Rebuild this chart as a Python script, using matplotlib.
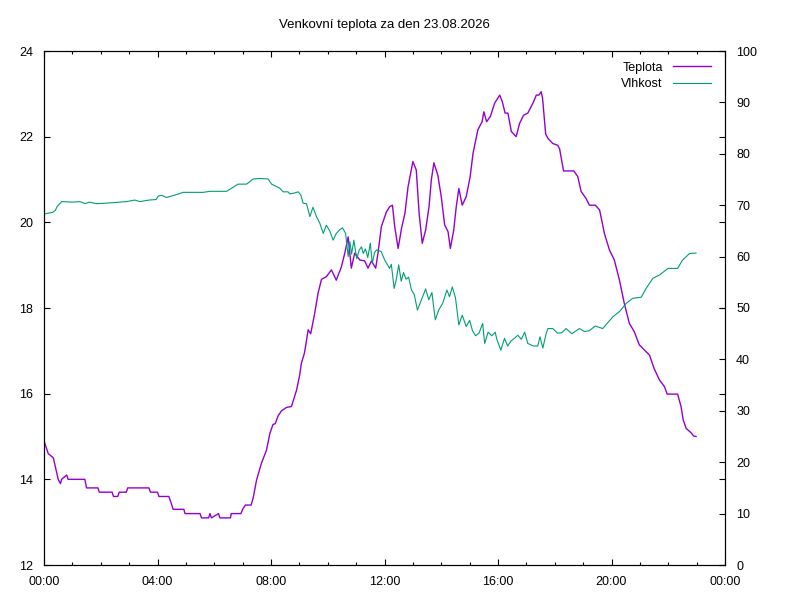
import matplotlib
matplotlib.use("Agg")
import matplotlib.pyplot as plt
from matplotlib.ticker import MultipleLocator, FuncFormatter

plt.rcParams['font.family'] = ['Liberation Sans', 'DejaVu Sans']

title = "Venkovní teplota za den 23.08.2026"

# time in hours, temperature in °C
temp_t = [0.00, 0.15, 0.33, 0.50, 0.58, 0.62, 0.80, 0.85, 1.44, 1.50, 1.90, 1.95, 2.05, 2.40, 2.45,
          2.60, 2.65, 2.90, 2.95, 3.70, 3.75, 4.00, 4.05, 4.40, 4.48, 4.55, 4.93, 4.97, 5.50, 5.55,
          5.80, 5.85, 5.90, 6.15, 6.20, 6.57, 6.60, 6.94, 7.00, 7.10, 7.30, 7.37, 7.49, 7.66, 7.84,
          7.96, 8.07, 8.15, 8.25, 8.37, 8.55, 8.72, 8.90, 9.01, 9.07, 9.18, 9.31, 9.40, 9.54, 9.66,
          9.78, 9.95, 10.13, 10.30, 10.48, 10.60, 10.72, 10.83, 10.95, 11.13, 11.30, 11.42, 11.54,
          11.69, 11.77, 11.89, 12.07, 12.19, 12.28, 12.36, 12.48, 12.60, 12.72, 12.83, 13.00, 13.12,
          13.22, 13.33, 13.45, 13.57, 13.65, 13.74, 13.88, 14.00, 14.12, 14.24, 14.32, 14.44, 14.53,
          14.62, 14.74, 14.88, 15.02, 15.12, 15.29, 15.44, 15.50, 15.60, 15.73, 15.88, 16.06, 16.15,
          16.25, 16.35, 16.47, 16.64, 16.76, 16.90, 17.05, 17.23, 17.35, 17.44, 17.52, 17.57, 17.68,
          17.76, 17.93, 18.10, 18.17, 18.31, 18.67, 18.81, 18.93, 19.10, 19.22, 19.43, 19.58, 19.75,
          19.93, 20.10, 20.28, 20.45, 20.63, 20.80, 20.98, 21.16, 21.34, 21.50, 21.69, 21.87, 21.96,
          22.33, 22.45, 22.53, 22.63, 22.80, 22.90, 22.98]
temp_v = [14.9, 14.6, 14.5, 14.0, 13.9, 14.0, 14.1, 14.0, 14.0, 13.8, 13.8, 13.7, 13.7, 13.7, 13.6,
          13.6, 13.7, 13.7, 13.8, 13.8, 13.7, 13.7, 13.6, 13.6, 13.45, 13.3, 13.3, 13.2, 13.2, 13.1,
          13.1, 13.2, 13.1, 13.2, 13.1, 13.1, 13.2, 13.2, 13.3, 13.4, 13.4, 13.56, 13.98, 14.37, 14.68,
          15.07, 15.28, 15.3, 15.48, 15.6, 15.68, 15.7, 16.08, 16.43, 16.71, 16.95, 17.49, 17.4, 17.88, 18.35,
          18.67, 18.73, 18.89, 18.65, 18.96, 19.28, 19.66, 18.93, 19.28, 19.12, 19.1, 18.93, 19.1,
          18.93, 19.28, 19.9, 20.25, 20.37, 20.4, 19.9, 19.39, 19.86, 20.21, 20.83, 21.42, 21.22,
          20.21, 19.51, 19.82, 20.37, 20.99, 21.39, 21.1, 20.6, 19.94, 19.78, 19.39, 19.82, 20.37,
          20.79, 20.4, 20.6, 21.07, 21.61, 22.16, 22.35, 22.58, 22.35, 22.47, 22.78, 22.97, 22.82,
          22.55, 22.55, 22.12, 22.0, 22.31, 22.5, 22.55, 22.78, 22.97, 22.97, 23.05, 22.9, 22.06,
          21.96, 21.84, 21.8, 21.72, 21.2, 21.2, 21.07, 20.72, 20.56, 20.4, 20.4, 20.29, 19.74,
          19.35, 19.12, 18.65, 18.11, 17.64, 17.45, 17.14, 17.02, 16.9, 16.59, 16.32, 16.16, 15.99,
          15.99, 15.7, 15.38, 15.19, 15.09, 15.01, 15.0]

# time in hours, relative humidity in %
hum_t = [0.00, 0.30, 0.40, 0.46, 0.62, 1.00, 1.27, 1.45, 1.60, 1.85, 2.20, 2.44, 2.91, 3.20, 3.38,
         3.70, 3.95, 4.03, 4.15, 4.32, 4.50, 4.75, 4.90, 5.61, 5.85, 6.43, 6.61, 6.84, 7.14, 7.37,
         7.61, 7.90, 8.02, 8.20, 8.31, 8.43, 8.60, 8.66, 8.78, 8.96, 9.05, 9.13, 9.25, 9.37, 9.48,
         9.60, 9.72, 9.84, 9.95, 10.07, 10.19, 10.30, 10.42, 10.52, 10.63, 10.72, 10.78, 10.84, 10.92,
         11.02, 11.11, 11.19, 11.25, 11.33, 11.41, 11.50, 11.57, 11.65, 11.72, 11.88, 12.01, 12.18,
         12.24, 12.34, 12.41, 12.50, 12.59, 12.67, 12.76, 12.85, 12.95, 13.05, 13.16, 13.30, 13.45,
         13.56, 13.67, 13.79, 13.91, 14.05, 14.20, 14.29, 14.39, 14.50, 14.62, 14.74, 14.88, 15.00,
         15.10, 15.21, 15.33, 15.46, 15.53, 15.65, 15.78, 15.90, 15.96, 16.10, 16.23, 16.34, 16.46,
         16.58, 16.70, 16.82, 16.94, 17.05, 17.25, 17.40, 17.48, 17.58, 17.70, 17.76, 17.93, 18.10,
         18.25, 18.40, 18.60, 18.87, 19.05, 19.22, 19.43, 19.69, 20.05, 20.28, 20.52, 20.75, 21.05,
         21.22, 21.46, 21.69, 21.99, 22.33, 22.50, 22.75, 22.98]
hum_v = [68.3, 68.6, 69.0, 69.7, 70.7, 70.6, 70.7, 70.3, 70.6, 70.3, 70.4, 70.5, 70.7, 71.0, 70.7,
         71.0, 71.1, 71.8, 71.9, 71.5, 71.8, 72.2, 72.5, 72.5, 72.7, 72.7, 73.3, 74.1, 74.1, 75.1,
         75.2, 75.1, 74.1, 73.6, 73.3, 72.6, 72.6, 72.2, 72.3, 72.6, 72.0, 70.4, 70.3, 67.8, 69.6,
         67.8, 66.5, 64.5, 66.1, 65.0, 63.2, 64.5, 65.2, 65.6, 64.5, 60.0, 62.9, 60.5, 63.2,
         59.6, 61.3, 61.9, 60.6, 61.5, 59.8, 62.6, 58.7, 60.8, 61.3, 61.0, 59.3, 57.7,
         58.5, 53.8, 55.4, 58.4, 55.2, 56.9, 55.6, 56.0, 53.5, 52.6, 49.6, 51.6, 53.7,
         51.6, 53.0, 47.7, 49.6, 50.9, 53.5, 52.2, 54.1, 52.0, 46.7, 48.6, 46.4, 47.6,
         45.6, 44.6, 45.1, 47.0, 43.1, 45.3, 44.6, 45.3, 43.9, 41.8, 44.1, 42.6, 43.6,
         44.1, 44.7, 43.9, 45.3, 43.1, 42.6, 42.6, 44.4, 42.2, 45.1, 46.0, 46.0, 45.1,
         45.2, 46.0, 45.0, 46.0, 45.4, 45.6, 46.5, 46.0, 48.3, 49.3, 50.9, 51.9, 52.1,
         53.8, 55.8, 56.4, 57.7, 57.7, 59.3, 60.6, 60.7]

x_major = [0, 4, 8, 12, 16, 20, 24]

fig = plt.figure(figsize=(8, 6), dpi=100)
ax = fig.add_axes([44/800, 1-565/600, (725-44)/800, (565-51)/600])
ax2 = ax.twinx()

l1, = ax.plot(temp_t, temp_v, color='#9400D3', lw=1.0, label='Teplota')
l2, = ax2.plot(hum_t, hum_v, color='#009E73', lw=0.8, label='Vlhkost')

ax.set_xlim(0, 24)
ax.set_ylim(12, 24)
ax2.set_ylim(0, 100)

ax.set_xticks(x_major)
ax.xaxis.set_minor_locator(MultipleLocator(1))
ax.xaxis.set_major_formatter(FuncFormatter(lambda v, p: "%02d:00" % (int(round(v)) % 24)))
ax.yaxis.set_major_locator(MultipleLocator(2))
ax2.yaxis.set_major_locator(MultipleLocator(10))

for a in (ax, ax2):
    for s in a.spines.values():
        s.set_linewidth(0.8)
        s.set_color('black')

ax.tick_params(which='major', direction='in', length=4.5, width=0.8, top=True, right=True,
               labelsize=9, pad=8)
ax.tick_params(which='minor', direction='in', length=2.3, width=0.8, top=True)
ax2.tick_params(which='major', direction='in', length=4.5, width=0.8, labelsize=9, pad=8)

leg = ax2.legend(handles=[l1, l2], loc='upper right', frameon=False, markerfirst=False,
                 fontsize=9, handlelength=3.1, handletextpad=0.8, labelspacing=0.35,
                 borderaxespad=0.3, bbox_to_anchor=(0.993, 0.996))

fig.text((44+725)/2/800, 1-25/600, title, ha='center', va='center', fontsize=9.5)

fig.savefig('out.png', dpi=100)
